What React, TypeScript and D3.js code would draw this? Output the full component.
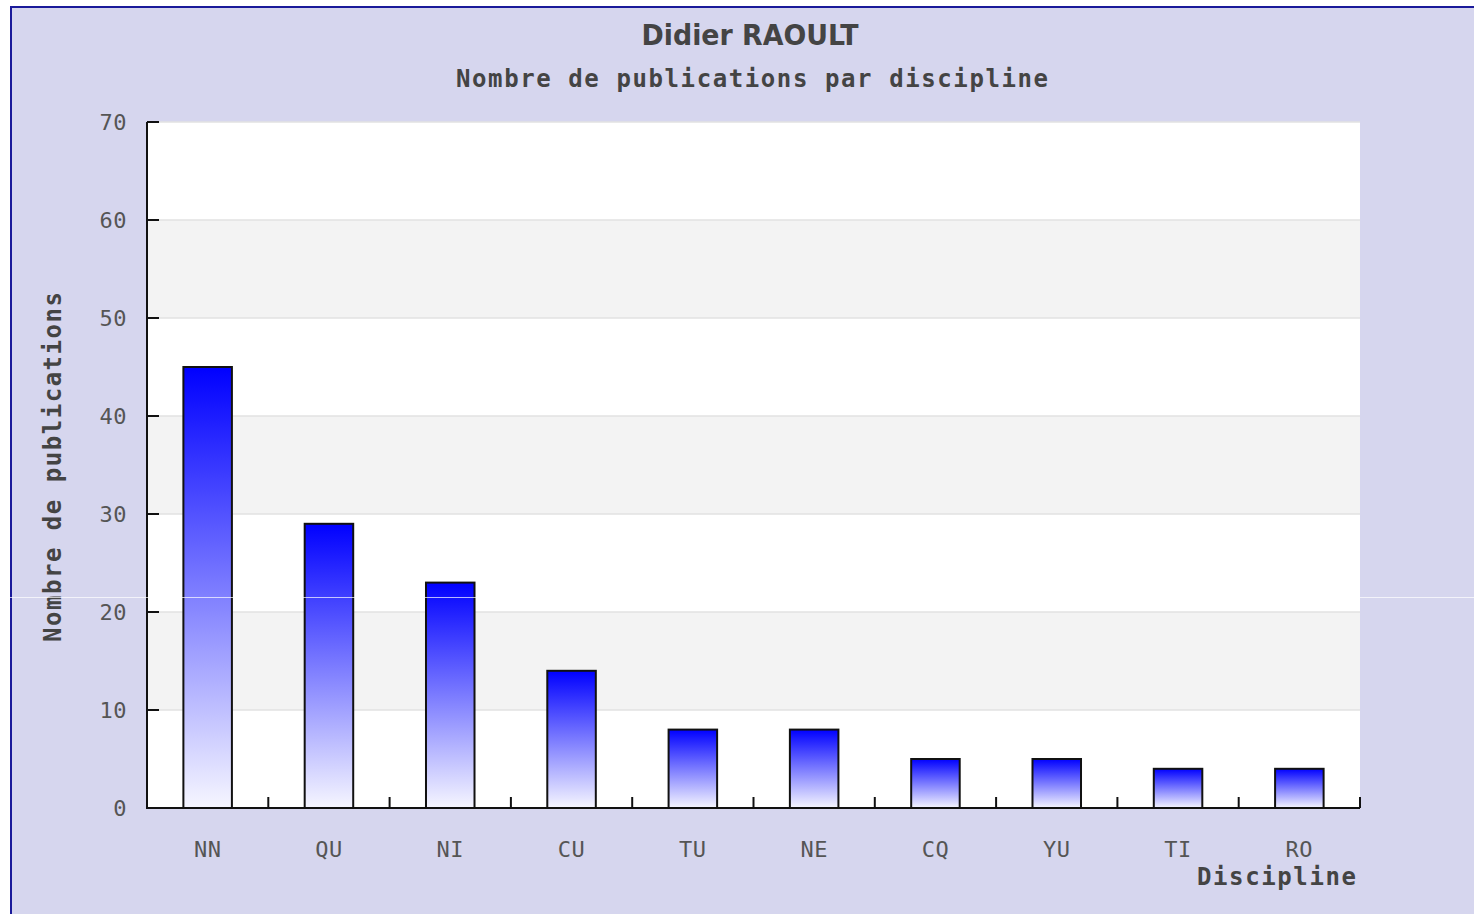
import React from "react";
import * as d3 from "d3";

const categories = ["NN", "QU", "NI", "CU", "TU", "NE", "CQ", "YU", "TI", "RO"];
const values = [45, 29, 23, 14, 8, 8, 5, 5, 4, 4];
const yTicks = [0, 10, 20, 30, 40, 50, 60, 70];
const title = "Didier RAOULT";
const subtitle = "Nombre de publications par discipline";
const yTitle = "Nombre de publications";
const xTitle = "Discipline";

const W = 1474;
const H = 914;
const left = 147;
const right = 1360;
const top = 122;
const bottom = 808;

export default function App() {
  const x = d3.scaleBand<string>().domain(categories).range([left, right]).paddingInner(0.6).paddingOuter(0.3);
  const y = d3.scaleLinear().domain([0, 70]).range([bottom, top]);
  const step = x.step();
  const bands = d3.pairs(yTicks);
  const mono = "'DejaVu Sans Mono', monospace";
  return (
    <svg width={W} height={H} style={{ position: "absolute", left: 0, top: 0 }} xmlns="http://www.w3.org/2000/svg">
      <defs>
        <linearGradient id="barGrad" x1="0" y1="0" x2="0" y2="1">
          <stop offset="0" stopColor="#0000ff" />
          <stop offset="1" stopColor="#f6f6ff" />
        </linearGradient>
      </defs>
      <rect x={0} y={0} width={W} height={H} fill="#ffffff" />
      <rect x={10} y={6} width={W - 10} height={H - 6} fill="#d6d6ee" />
      <line x1={11} y1={6} x2={11} y2={H} stroke="#1a1a9a" strokeWidth={2} />
      <line x1={10} y1={7} x2={W} y2={7} stroke="#1a1a9a" strokeWidth={2} />

      <text x={750} y={45} textAnchor="middle" fontFamily="'DejaVu Sans Condensed', 'DejaVu Sans', sans-serif" fontWeight="bold" fontSize={29} fill="#444" textLength={217} lengthAdjust="spacingAndGlyphs">{title}</text>
      <text x={752} y={87} textAnchor="middle" fontFamily={mono} fontWeight="bold" fontSize={24} fill="#444" textLength={592} lengthAdjust="spacing">{subtitle}</text>

      {/* plot background bands */}
      <rect x={left} y={top} width={right - left} height={bottom - top} fill="#ffffff" />
      {bands.map(([a, b], i) => (
        i % 2 === 1 ? <rect key={"b" + i} x={left} y={y(b)} width={right - left} height={y(a) - y(b)} fill="#f3f3f3" /> : null
      ))}
      {yTicks.slice(1).map((t) => (
        <line key={"g" + t} x1={left} x2={right} y1={y(t)} y2={y(t)} stroke="#e2e2e2" strokeWidth={1.5} />
      ))}

      {/* bars */}
      {categories.map((c, i) => (
        <rect key={c} x={x(c)} y={y(values[i])} width={x.bandwidth()} height={y(0) - y(values[i])} fill="url(#barGrad)" stroke="#111" strokeWidth={2} />
      ))}

      {/* axes */}
      <line x1={left} x2={left} y1={top} y2={bottom + 1} stroke="#111" strokeWidth={2} />
      <line x1={left} x2={right} y1={bottom} y2={bottom} stroke="#111" strokeWidth={2} />
      {yTicks.map((t) => (
        <g key={"yt" + t}>
          <line x1={left} x2={left + 12} y1={y(t)} y2={y(t)} stroke="#111" strokeWidth={2} />
          <text x={127} y={y(t) + 8} textAnchor="end" fontFamily={mono} fontSize={22} fill="#555" letterSpacing={0.5}>{t}</text>
        </g>
      ))}
      {categories.map((c, i) => (
        <g key={"xt" + c}>
          <line x1={left + step * (i + 1)} x2={left + step * (i + 1)} y1={bottom} y2={bottom - 11} stroke="#111" strokeWidth={2} />
          <text x={(x(c) as number) + x.bandwidth() / 2} y={857} textAnchor="middle" fontFamily={mono} fontSize={22} fill="#555" letterSpacing={0.5}>{c}</text>
        </g>
      ))}

      <text x={1356} y={885} textAnchor="end" fontFamily={mono} fontWeight="bold" fontSize={24} fill="#444" textLength={159} lengthAdjust="spacing">{xTitle}</text>
      <text transform={`translate(61, ${(top + bottom) / 2 + 2}) rotate(-90)`} textAnchor="middle" fontFamily={mono} fontWeight="bold" fontSize={24} fill="#444" textLength={350} lengthAdjust="spacing">{yTitle}</text>

      <line x1={0} x2={W} y1={597.5} y2={597.5} stroke="#ffffff" strokeOpacity={0.7} strokeWidth={1} />
    </svg>
  );
}
